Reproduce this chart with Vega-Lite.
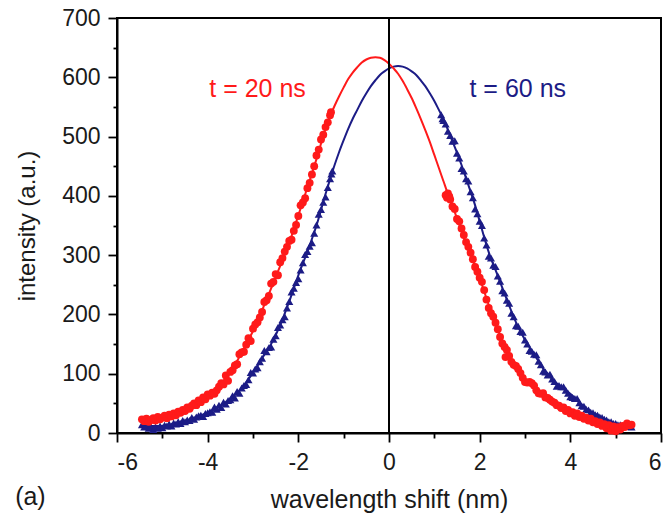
{
  "$schema": "https://vega.github.io/schema/vega-lite/v6.json",
  "width": 544,
  "height": 415,
  "autosize": {"type": "none"},
  "padding": {"left": 117, "top": 18, "right": 5, "bottom": 82},
  "background": "white",
  "config": {
    "view": {"stroke": "#000", "strokeWidth": 2},
    "font": "Liberation Sans",
    "axis": {
      "grid": false,
      "domainColor": "#000",
      "domainWidth": 2,
      "tickColor": "#000",
      "tickWidth": 1.8,
      "labelFont": "Liberation Sans",
      "labelFontSize": 23,
      "labelColor": "#1a1a1a",
      "titleFont": "Liberation Sans",
      "titleFontWeight": "normal",
      "titleColor": "#1a1a1a"
    }
  },
  "datasets": {
    "red": [
      {"x":-5.45,"y":23},{"x":-5.4,"y":20},{"x":-5.35,"y":24},{"x":-5.3,"y":19},{"x":-5.25,"y":22},{"x":-5.2,"y":25},{"x":-5.15,"y":21},{"x":-5.1,"y":27},{"x":-5.05,"y":23},{"x":-5.0,"y":26},
      {"x":-4.95,"y":29},{"x":-4.9,"y":25},{"x":-4.85,"y":31},{"x":-4.8,"y":28},{"x":-4.75,"y":33},{"x":-4.7,"y":30},{"x":-4.65,"y":36},{"x":-4.6,"y":34},{"x":-4.55,"y":39},{"x":-4.5,"y":37},
      {"x":-4.45,"y":43},{"x":-4.4,"y":41},{"x":-4.35,"y":46},{"x":-4.3,"y":50},{"x":-4.25,"y":47},{"x":-4.2,"y":55},{"x":-4.15,"y":52},{"x":-4.1,"y":60},{"x":-4.05,"y":57},{"x":-4.0,"y":65},
      {"x":-3.95,"y":63},{"x":-3.9,"y":68},{"x":-3.85,"y":66},{"x":-3.8,"y":72},{"x":-3.75,"y":78},{"x":-3.7,"y":84},{"x":-3.65,"y":82},{"x":-3.6,"y":97},{"x":-3.55,"y":88},{"x":-3.5,"y":103},
      {"x":-3.45,"y":106},{"x":-3.4,"y":114},{"x":-3.35,"y":116},{"x":-3.3,"y":133},{"x":-3.25,"y":136},{"x":-3.2,"y":137},{"x":-3.15,"y":149},{"x":-3.1,"y":160},{"x":-3.05,"y":155},{"x":-3.0,"y":176},
      {"x":-2.95,"y":183},{"x":-2.9,"y":187},{"x":-2.85,"y":195},{"x":-2.8,"y":204},{"x":-2.75,"y":221},{"x":-2.7,"y":224},{"x":-2.65,"y":231},{"x":-2.6,"y":252},{"x":-2.55,"y":255},{"x":-2.5,"y":268},
      {"x":-2.45,"y":266},{"x":-2.4,"y":288},{"x":-2.35,"y":295},{"x":-2.3,"y":306},{"x":-2.25,"y":314},{"x":-2.2,"y":324},{"x":-2.15,"y":326},{"x":-2.1,"y":341},{"x":-2.05,"y":351},{"x":-2.0,"y":366},
      {"x":-1.95,"y":384},{"x":-1.9,"y":389},{"x":-1.85,"y":396},{"x":-1.8,"y":413},{"x":-1.75,"y":422},{"x":-1.7,"y":436},{"x":-1.65,"y":450},{"x":-1.6,"y":468},{"x":-1.55,"y":478},{"x":-1.5,"y":495},
      {"x":-1.45,"y":503},{"x":-1.4,"y":516},{"x":-1.35,"y":524},{"x":-1.3,"y":536},{"x":-1.28,"y":541},
      {"x":1.25,"y":401},{"x":1.28,"y":397},{"x":1.3,"y":404},{"x":1.33,"y":399},{"x":1.35,"y":394},{"x":1.4,"y":382},{"x":1.45,"y":378},{"x":1.5,"y":361},{"x":1.55,"y":357},{"x":1.6,"y":345},
      {"x":1.65,"y":334},{"x":1.7,"y":322},{"x":1.75,"y":314},{"x":1.8,"y":304},{"x":1.85,"y":293},{"x":1.9,"y":280},{"x":1.95,"y":272},{"x":2.0,"y":262},{"x":2.05,"y":255},{"x":2.1,"y":241},
      {"x":2.15,"y":225},{"x":2.2,"y":211},{"x":2.25,"y":202},{"x":2.3,"y":196},{"x":2.35,"y":186},{"x":2.4,"y":175},{"x":2.45,"y":162},{"x":2.5,"y":151},{"x":2.55,"y":145},{"x":2.57,"y":128},
      {"x":2.6,"y":140},{"x":2.65,"y":130},{"x":2.7,"y":120},{"x":2.75,"y":115},{"x":2.8,"y":113},{"x":2.85,"y":108},{"x":2.9,"y":101},{"x":2.95,"y":93},{"x":3.0,"y":86},{"x":3.05,"y":85},
      {"x":3.1,"y":86},{"x":3.15,"y":84},{"x":3.2,"y":80},{"x":3.25,"y":72},{"x":3.3,"y":67},{"x":3.35,"y":66},{"x":3.4,"y":67},{"x":3.45,"y":60},{"x":3.5,"y":59},{"x":3.55,"y":56},
      {"x":3.6,"y":53},{"x":3.65,"y":51},{"x":3.7,"y":47},{"x":3.75,"y":46},{"x":3.8,"y":42},{"x":3.85,"y":43},{"x":3.9,"y":37},{"x":3.95,"y":39},{"x":4.0,"y":33},{"x":4.05,"y":35},
      {"x":4.1,"y":29},{"x":4.15,"y":33},{"x":4.2,"y":27},{"x":4.25,"y":29},{"x":4.3,"y":24},{"x":4.35,"y":26},{"x":4.4,"y":21},{"x":4.45,"y":24},{"x":4.5,"y":18},{"x":4.55,"y":20},
      {"x":4.6,"y":15},{"x":4.65,"y":18},{"x":4.7,"y":12},{"x":4.75,"y":15},{"x":4.8,"y":8},{"x":4.85,"y":13},{"x":4.9,"y":4},{"x":4.95,"y":11},{"x":5.0,"y":3},{"x":5.05,"y":10},
      {"x":5.1,"y":6},{"x":5.15,"y":12},{"x":5.2,"y":10},{"x":5.25,"y":16},{"x":5.3,"y":13},{"x":5.35,"y":14}
    ],
    "blue": [
      {"x":-5.45,"y":14},{"x":-5.4,"y":10},{"x":-5.35,"y":13},{"x":-5.3,"y":8},{"x":-5.25,"y":11},{"x":-5.2,"y":6},{"x":-5.15,"y":10},{"x":-5.1,"y":8},{"x":-5.05,"y":12},{"x":-5.0,"y":9},
      {"x":-4.95,"y":13},{"x":-4.9,"y":12},{"x":-4.85,"y":15},{"x":-4.8,"y":12},{"x":-4.75,"y":17},{"x":-4.7,"y":15},{"x":-4.65,"y":19},{"x":-4.6,"y":16},{"x":-4.55,"y":21},{"x":-4.5,"y":19},
      {"x":-4.45,"y":22},{"x":-4.4,"y":21},{"x":-4.35,"y":26},{"x":-4.3,"y":23},{"x":-4.25,"y":27},{"x":-4.2,"y":29},{"x":-4.15,"y":30},{"x":-4.1,"y":28},{"x":-4.05,"y":33},{"x":-4.0,"y":34},
      {"x":-3.95,"y":36},{"x":-3.9,"y":35},{"x":-3.85,"y":44},{"x":-3.8,"y":40},{"x":-3.75,"y":47},{"x":-3.7,"y":43},{"x":-3.65,"y":52},{"x":-3.6,"y":49},{"x":-3.55,"y":55},{"x":-3.5,"y":56},
      {"x":-3.45,"y":63},{"x":-3.4,"y":59},{"x":-3.35,"y":70},{"x":-3.3,"y":67},{"x":-3.25,"y":76},{"x":-3.2,"y":80},{"x":-3.15,"y":82},{"x":-3.1,"y":90},{"x":-3.05,"y":102},{"x":-3.0,"y":101},
      {"x":-2.95,"y":108},{"x":-2.9,"y":110},{"x":-2.85,"y":120},{"x":-2.8,"y":126},{"x":-2.75,"y":139},{"x":-2.7,"y":137},{"x":-2.65,"y":144},{"x":-2.6,"y":145},{"x":-2.55,"y":158},{"x":-2.5,"y":164},
      {"x":-2.45,"y":178},{"x":-2.4,"y":182},{"x":-2.35,"y":191},{"x":-2.3,"y":196},{"x":-2.25,"y":211},{"x":-2.2,"y":222},{"x":-2.15,"y":238},{"x":-2.1,"y":244},{"x":-2.05,"y":254},{"x":-2.0,"y":260},
      {"x":-1.95,"y":275},{"x":-1.9,"y":287},{"x":-1.85,"y":301},{"x":-1.8,"y":306},{"x":-1.75,"y":315},{"x":-1.7,"y":321},{"x":-1.65,"y":337},{"x":-1.6,"y":351},{"x":-1.55,"y":369},{"x":-1.5,"y":377},
      {"x":-1.45,"y":389},{"x":-1.4,"y":398},{"x":-1.35,"y":414},{"x":-1.3,"y":429},{"x":-1.27,"y":437},{"x":-1.25,"y":442},
      {"x":1.15,"y":537},{"x":1.18,"y":530},{"x":1.2,"y":527},{"x":1.25,"y":521},{"x":1.3,"y":509},{"x":1.35,"y":502},{"x":1.4,"y":492},{"x":1.45,"y":493},{"x":1.5,"y":472},{"x":1.55,"y":464},
      {"x":1.6,"y":446},{"x":1.65,"y":442},{"x":1.7,"y":429},{"x":1.75,"y":425},{"x":1.8,"y":407},{"x":1.85,"y":397},{"x":1.9,"y":378},{"x":1.95,"y":370},{"x":2.0,"y":357},{"x":2.05,"y":350},
      {"x":2.1,"y":329},{"x":2.15,"y":317},{"x":2.2,"y":298},{"x":2.25,"y":295},{"x":2.3,"y":283},{"x":2.35,"y":281},{"x":2.4,"y":265},{"x":2.45,"y":256},{"x":2.5,"y":240},{"x":2.55,"y":236},
      {"x":2.6,"y":224},{"x":2.65,"y":219},{"x":2.7,"y":202},{"x":2.75,"y":196},{"x":2.8,"y":181},{"x":2.85,"y":180},{"x":2.9,"y":171},{"x":2.95,"y":170},{"x":3.0,"y":157},{"x":3.05,"y":150},
      {"x":3.1,"y":139},{"x":3.15,"y":138},{"x":3.2,"y":133},{"x":3.25,"y":132},{"x":3.3,"y":121},{"x":3.35,"y":115},{"x":3.4,"y":104},{"x":3.45,"y":103},{"x":3.5,"y":98},{"x":3.55,"y":99},
      {"x":3.6,"y":91},{"x":3.65,"y":87},{"x":3.7,"y":79},{"x":3.75,"y":80},{"x":3.8,"y":78},{"x":3.85,"y":78},{"x":3.9,"y":72},{"x":3.95,"y":67},{"x":4.0,"y":61},{"x":4.05,"y":60},
      {"x":4.1,"y":58},{"x":4.15,"y":58},{"x":4.2,"y":51},{"x":4.25,"y":46},{"x":4.3,"y":45},{"x":4.35,"y":40},{"x":4.4,"y":39},{"x":4.45,"y":35},{"x":4.5,"y":34},{"x":4.55,"y":31},
      {"x":4.6,"y":30},{"x":4.65,"y":27},{"x":4.7,"y":26},{"x":4.75,"y":23},{"x":4.8,"y":22},{"x":4.85,"y":19},{"x":4.9,"y":19},{"x":4.95,"y":16},{"x":5.0,"y":16},{"x":5.05,"y":14},
      {"x":5.1,"y":14},{"x":5.15,"y":12},{"x":5.2,"y":13},{"x":5.25,"y":11},{"x":5.3,"y":12},{"x":5.35,"y":10}
    ],
    "redFit": [
      {"x":-5.4,"y":21},{"x":-5.0,"y":25},{"x":-4.6,"y":36},{"x":-4.2,"y":53},{"x":-3.8,"y":76},{"x":-3.5,"y":103},{"x":-3.2,"y":142},{"x":-3.0,"y":172},{"x":-2.8,"y":207},{"x":-2.6,"y":244},
      {"x":-2.4,"y":282},{"x":-2.2,"y":321},{"x":-2.0,"y":367},{"x":-1.8,"y":414},{"x":-1.6,"y":462},{"x":-1.4,"y":513},{"x":-1.3,"y":534},{"x":-1.2,"y":552},{"x":-1.1,"y":568},{"x":-1.0,"y":583},
      {"x":-0.9,"y":597},{"x":-0.8,"y":608},{"x":-0.7,"y":617},{"x":-0.6,"y":625},{"x":-0.5,"y":630},{"x":-0.4,"y":633},{"x":-0.3,"y":634},{"x":-0.2,"y":633},{"x":-0.1,"y":629},{"x":0.0,"y":623},
      {"x":0.1,"y":615},{"x":0.2,"y":606},{"x":0.3,"y":594},{"x":0.4,"y":580},{"x":0.5,"y":565},{"x":0.6,"y":548},{"x":0.7,"y":530},{"x":0.8,"y":511},{"x":0.9,"y":491},{"x":1.0,"y":469},
      {"x":1.1,"y":447},{"x":1.2,"y":425},{"x":1.3,"y":403},{"x":1.4,"y":383},{"x":1.5,"y":362},{"x":1.6,"y":341},{"x":1.7,"y":320},{"x":1.8,"y":300},{"x":1.9,"y":281},{"x":2.0,"y":261},
      {"x":2.2,"y":216},{"x":2.4,"y":174},{"x":2.6,"y":139},{"x":2.8,"y":111},{"x":3.0,"y":91},{"x":3.2,"y":78},{"x":3.4,"y":65},{"x":3.6,"y":54},{"x":3.8,"y":43},{"x":4.0,"y":35},
      {"x":4.4,"y":23},{"x":4.8,"y":13},{"x":5.0,"y":11},{"x":5.3,"y":11}
    ],
    "blueFit": [
      {"x":-5.4,"y":12},{"x":-5.0,"y":12},{"x":-4.6,"y":18},{"x":-4.2,"y":28},{"x":-3.8,"y":42},{"x":-3.5,"y":57},{"x":-3.2,"y":80},{"x":-3.0,"y":102},{"x":-2.8,"y":126},{"x":-2.6,"y":150},
      {"x":-2.4,"y":182},{"x":-2.2,"y":222},{"x":-2.0,"y":266},{"x":-1.8,"y":306},{"x":-1.6,"y":350},{"x":-1.4,"y":403},{"x":-1.3,"y":428},{"x":-1.2,"y":452},{"x":-1.1,"y":474},{"x":-1.0,"y":494},
      {"x":-0.9,"y":513},{"x":-0.8,"y":530},{"x":-0.7,"y":545},{"x":-0.6,"y":560},{"x":-0.5,"y":573},{"x":-0.4,"y":585},{"x":-0.3,"y":595},{"x":-0.2,"y":604},{"x":-0.1,"y":610},{"x":0.0,"y":615},
      {"x":0.1,"y":618},{"x":0.2,"y":619},{"x":0.3,"y":618},{"x":0.4,"y":615},{"x":0.5,"y":610},{"x":0.6,"y":604},{"x":0.7,"y":595},{"x":0.8,"y":585},{"x":0.9,"y":573},{"x":1.0,"y":560},
      {"x":1.1,"y":545},{"x":1.2,"y":530},{"x":1.3,"y":511},{"x":1.4,"y":492},{"x":1.5,"y":473},{"x":1.6,"y":452},{"x":1.7,"y":430},{"x":1.8,"y":407},{"x":1.9,"y":384},{"x":2.0,"y":357},
      {"x":2.2,"y":305},{"x":2.4,"y":265},{"x":2.6,"y":225},{"x":2.8,"y":187},{"x":3.0,"y":157},{"x":3.2,"y":133},{"x":3.4,"y":109},{"x":3.6,"y":91},{"x":3.8,"y":77},{"x":4.0,"y":66},
      {"x":4.2,"y":51},{"x":4.4,"y":38},{"x":4.6,"y":30},{"x":4.8,"y":22},{"x":5.0,"y":16},{"x":5.3,"y":12}
    ],
    "one": [{}]
  },
  "layer": [
    {
      "data": {"name": "blueFit"},
      "mark": {"type": "line", "color": "#1c1c86", "strokeWidth": 2, "interpolate": "monotone"},
      "encoding": {
        "x": {"field": "x", "type": "quantitative",
              "scale": {"domain": [-6, 6], "nice": false, "zero": false},
              "axis": {"values": [-6, -4, -2, 0, 2, 4, 6], "tickSize": 9, "labelPadding": 9,
                       "labelExpr": "datum.value < 0 ? '-' + abs(datum.value) : '' + datum.value",
                       "title": "wavelength shift (nm)", "titleFontSize": 25, "titlePadding": 13, "orient": "bottom"}},
        "y": {"field": "y", "type": "quantitative",
              "scale": {"domain": [0, 700], "nice": false, "zero": true},
              "axis": {"values": [0, 100, 200, 300, 400, 500, 600, 700], "tickSize": 9, "labelPadding": 8,
                       "title": "intensity (a.u.)", "titleFontSize": 24, "titlePadding": 22, "orient": "left"}}
      }
    },
    {
      "data": {"name": "redFit"},
      "mark": {"type": "line", "color": "#ff1a1a", "strokeWidth": 2, "interpolate": "monotone"},
      "encoding": {
        "x": {"field": "x", "type": "quantitative", "axis": null},
        "y": {"field": "y", "type": "quantitative", "axis": null}
      }
    },
    {
      "data": {"name": "blue"},
      "mark": {"type": "point", "shape": "triangle-up", "filled": true, "color": "#1c1c86", "size": 65, "opacity": 1},
      "encoding": {
        "x": {"field": "x", "type": "quantitative", "axis": null},
        "y": {"field": "y", "type": "quantitative", "axis": null}
      }
    },
    {
      "data": {"name": "red"},
      "mark": {"type": "circle", "color": "#ff1a1a", "size": 62, "opacity": 1},
      "encoding": {
        "x": {"field": "x", "type": "quantitative", "axis": null},
        "y": {"field": "y", "type": "quantitative", "axis": null}
      }
    },
    {
      "data": {"name": "red"},
      "mark": {"type": "point", "opacity": 0},
      "encoding": {
        "x": {"field": "x", "type": "quantitative",
              "axis": {"values": [-5, -3, -1, 1, 3, 5], "tickSize": 5, "labels": false, "domain": false,
                       "title": null, "orient": "bottom"}},
        "y": {"field": "y", "type": "quantitative",
              "axis": {"values": [50, 150, 250, 350, 450, 550, 650], "tickSize": 4, "labels": false, "domain": false,
                       "title": null, "orient": "left"}}
      }
    },
    {
      "data": {"name": "one"},
      "mark": {"type": "rule", "color": "#000", "strokeWidth": 2},
      "encoding": {"x": {"datum": 0, "type": "quantitative", "axis": null}}
    },
    {
      "data": {"name": "one"},
      "mark": {"type": "text", "color": "#ff1a1a", "fontSize": 25, "font": "Liberation Sans", "align": "center", "baseline": "middle"},
      "encoding": {
        "x": {"datum": -2.9, "type": "quantitative", "axis": null},
        "y": {"datum": 580, "type": "quantitative", "axis": null},
        "text": {"value": "t = 20 ns"}
      }
    },
    {
      "data": {"name": "one"},
      "mark": {"type": "text", "color": "#1c1c86", "fontSize": 25, "font": "Liberation Sans", "align": "center", "baseline": "middle"},
      "encoding": {
        "x": {"datum": 2.84, "type": "quantitative", "axis": null},
        "y": {"datum": 580, "type": "quantitative", "axis": null},
        "text": {"value": "t = 60 ns"}
      }
    },
    {
      "data": {"name": "one"},
      "mark": {"type": "text", "color": "#1a1a1a", "fontSize": 25, "font": "Liberation Sans", "align": "center", "baseline": "middle"},
      "encoding": {
        "x": {"datum": -7.91, "type": "quantitative", "axis": null},
        "y": {"datum": -108, "type": "quantitative", "axis": null},
        "text": {"value": "(a)"}
      }
    }
  ],
  "resolve": {"axis": {"x": "independent", "y": "independent"}}
}
